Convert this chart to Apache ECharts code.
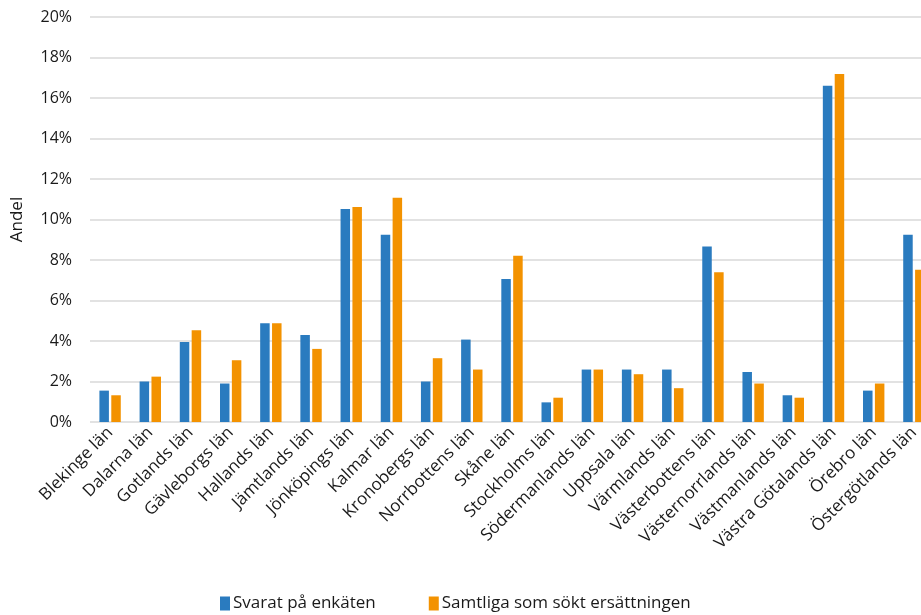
<!DOCTYPE html>
<html>
<head>
<meta charset="utf-8">
<script src="https://cdn.jsdelivr.net/npm/echarts@6/dist/echarts.min.js"></script>
<style>html,body{margin:0;padding:0;background:#fff;overflow:hidden;width:921px;height:615px}#c{width:936px;height:615px}</style>
</head>
<body>
<div id="c"></div>
<script>
const categories = ["Blekinge län","Dalarna län","Gotlands län","Gävleborgs län","Hallands län","Jämtlands län","Jönköpings län","Kalmar län","Kronobergs län","Norrbottens län","Skåne län","Stockholms län","Södermanlands län","Uppsala län","Värmlands län","Västerbottens län","Västernorrlands län","Västmanlands län","Västra Götalands län","Örebro län","Östergötlands län"];
const seriesNames = ["Svarat på enkäten","Samtliga som sökt ersättningen"];
const svarat = [1.55,2.0,3.95,1.9,4.88,4.3,10.52,9.25,2.0,4.07,7.06,0.97,2.59,2.59,2.59,8.67,2.47,1.32,16.6,1.55,9.25];
const samtliga = [1.32,2.24,4.53,3.05,4.88,3.61,10.62,11.08,3.15,2.59,8.21,1.2,2.59,2.36,1.67,7.4,1.9,1.2,17.18,1.9,7.52];
const yTicks = {min:0, max:20, interval:2};
const yName = "Andel";

const font = "'Open Sans', sans-serif";
const chart = echarts.init(document.getElementById('c'), null, {renderer:'canvas'});
chart.setOption({
  animation:false,
  textStyle:{fontFamily:font, color:'#1a1a1a'},
  grid:{left:90, right:2, top:17, bottom:193, containLabel:false},
  legend:{
    data:seriesNames, bottom:-2, left:215, itemWidth:10, itemHeight:14, itemGap:53,
    icon:'rect', textStyle:{fontFamily:font, fontSize:17, color:'#1a1a1a', padding:[0,0,0,-2]}
  },
  xAxis:{
    type:'category', data:categories,
    axisLine:{show:false}, axisTick:{show:false},
    axisLabel:{rotate:45, fontSize:17, color:'#1a1a1a', fontFamily:font, interval:0, margin:8}
  },
  yAxis:{
    type:'value', min:yTicks.min, max:yTicks.max, interval:yTicks.interval,
    name:yName, nameLocation:'middle', nameGap:64, nameRotate:90,
    nameTextStyle:{fontSize:17, color:'#1a1a1a', fontFamily:font},
    axisLine:{show:false}, axisTick:{show:false},
    axisLabel:{formatter:v=>v+'%', fontSize:16, color:'#1a1a1a', fontFamily:font, margin:18},
    splitLine:{lineStyle:{color:'#d9d9d9', width:1.5}}
  },
  series:[
    {name:seriesNames[0], type:'bar', data:svarat, barWidth:9.5, barGap:'25%',
     itemStyle:{color:'#2a7bbf'}},
    {name:seriesNames[1], type:'bar', data:samtliga, barWidth:9.5, barGap:'25%',
     itemStyle:{color:'#f39200'}}
  ]
});
</script>
</body>
</html>
